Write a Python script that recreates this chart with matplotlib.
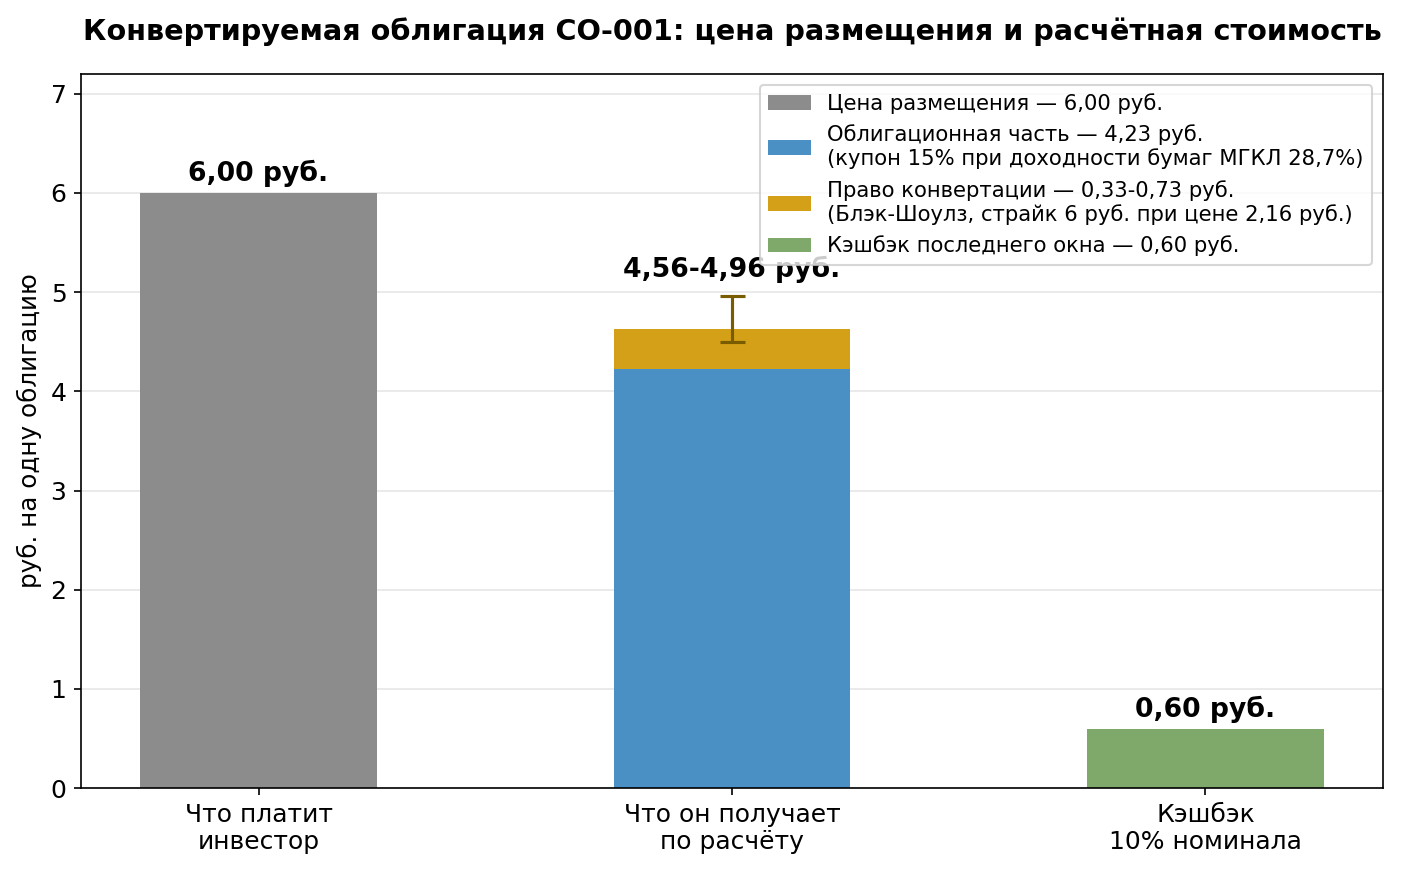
import matplotlib
matplotlib.use("Agg")
import matplotlib.pyplot as plt

categories = ["Что платит\nинвестор", "Что он получает\nпо расчёту", "Кэшбэк\n10% номинала"]
price = 6.00
bond_part = 4.23
option_part = 0.40
option_low = 4.50
option_high = 4.96
option_center = 4.73
cashback = 0.60
bar_labels = ["6,00 руб.", "4,56-4,96 руб.", "0,60 руб."]
legend_labels = [
    "Цена размещения — 6,00 руб.",
    "Облигационная часть — 4,23 руб.\n(купон 15% при доходности бумаг МГКЛ 28,7%)",
    "Право конвертации — 0,33-0,73 руб.\n(Блэк-Шоулз, страйк 6 руб. при цене 2,16 руб.)",
    "Кэшбэк последнего окна — 0,60 руб.",
]
colors = ["#8c8c8c", "#4a90c4", "#d4a017", "#7fa96b"]

plt.rcParams['font.family'] = ['DejaVu Sans']
fig = plt.figure(figsize=(1401/150, 872/150), dpi=150)
ax = fig.add_axes([81/1401, 1-788/872, (1383-81)/1401, (788-74)/872])

x = [0, 1, 2]
w = 0.5
ax.bar(x[0], price, w, color=colors[0], label=legend_labels[0], zorder=2)
ax.bar(x[1], bond_part, w, color=colors[1], label=legend_labels[1], zorder=2)
ax.bar(x[1], option_part, w, bottom=bond_part, color=colors[2], label=legend_labels[2], zorder=2)
ax.bar(x[2], cashback, w, color=colors[3], label=legend_labels[3], zorder=2)
ax.errorbar(x[1], option_center, yerr=[[option_center - option_low], [option_high - option_center]],
            fmt='none', ecolor="#7a5c00", capsize=6, elinewidth=1.5, capthick=1.5, zorder=3)

ax.text(x[0], price + 0.06, bar_labels[0], ha='center', va='bottom', fontsize=12.8, fontweight='bold')
ax.text(x[1], option_high + 0.13, bar_labels[1], ha='center', va='bottom', fontsize=12.8, fontweight='bold')
ax.text(x[2], cashback + 0.06, bar_labels[2], ha='center', va='bottom', fontsize=12.8, fontweight='bold')

ax.set_ylim(0, 7.2)
ax.set_xticks(x)
ax.set_xticklabels(categories, fontsize=12)
ax.tick_params(axis='y', labelsize=12)
ax.set_ylabel("руб. на одну облигацию", fontsize=11.8)
ax.yaxis.grid(True, color="#e6e6e6", linewidth=0.8, zorder=0)
ax.set_axisbelow(True)
ax.set_title("Конвертируемая облигация СО-001: цена размещения и расчётная стоимость",
             fontsize=13.8, fontweight='bold', pad=16.5)
ax.legend(loc='upper right', fontsize=10.15)

fig.savefig("out.png", dpi=150)
